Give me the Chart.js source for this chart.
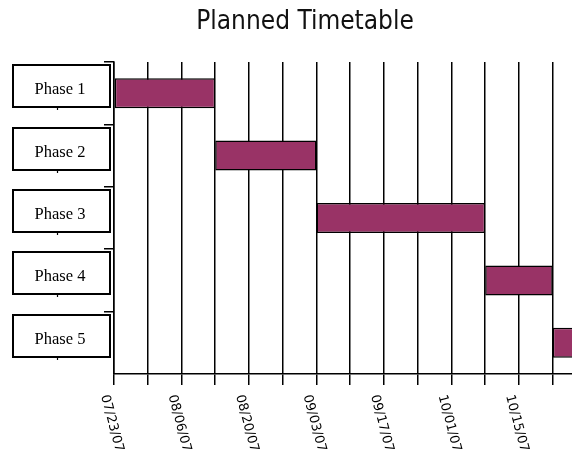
<!DOCTYPE html>
<html>
<head>
<meta charset="utf-8">
<title>Planned Timetable</title>
<script src="https://cdn.jsdelivr.net/npm/chart.js@4/dist/chart.umd.min.js"></script>
<style>
  html, body { margin: 0; padding: 0; background: #ffffff; overflow: hidden; }
  canvas { display: block; }
</style>
</head>
<body>
<canvas id="timetable" width="572" height="459"></canvas>
<script>
// Schedule data
const phases = ['Phase 1', 'Phase 2', 'Phase 3', 'Phase 4', 'Phase 5'];
const phaseStart = ['2007-07-23', '2007-08-13', '2007-09-03', '2007-10-08', '2007-10-22'];
const phaseEnd   = ['2007-08-13', '2007-09-03', '2007-10-08', '2007-10-22', '2007-11-05'];
const dateLabels = ['07/23/07', '08/06/07', '08/20/07', '09/03/07', '09/17/07', '10/01/07', '10/15/07'];

const axisStart = '2007-07-23';
const axisEnd = '2007-10-26';
const DAY = 86400000;
const dayOf = s => Math.round((Date.parse(s + 'T00:00:00Z') - Date.parse(axisStart + 'T00:00:00Z')) / DAY);
const spans = phases.map((p, i) => [dayOf(phaseStart[i]), dayOf(phaseEnd[i])]);

// Boxed phase names beside the rows
const phaseBoxes = {
  id: 'phaseBoxes',
  afterDraw(chart) {
    const ctx = chart.ctx;
    const y = chart.scales.y;
    ctx.save();
    phases.forEach((name, i) => {
      const cy = y.getPixelForValue(i) - 7;
      const top = Math.round(cy - 21);
      ctx.fillStyle = '#ffffff';
      ctx.fillRect(13, top, 97, 42);
      ctx.strokeStyle = '#000000';
      ctx.lineWidth = 2;
      ctx.strokeRect(13, top, 97, 42);
      ctx.fillStyle = '#000000';
      ctx.font = '16.5px "Liberation Serif", "Times New Roman", serif';
      ctx.textAlign = 'center';
      ctx.textBaseline = 'alphabetic';
      ctx.fillText(name, 60, top + 29);
      ctx.lineWidth = 1.2;
      ctx.beginPath();
      ctx.moveTo(57.5, top + 42);
      ctx.lineTo(57.5, top + 45);
      ctx.stroke();
    });
    ctx.restore();
  }
};

// Slanted date labels under every second week line
const dateTicks = {
  id: 'dateTicks',
  afterDraw(chart) {
    const ctx = chart.ctx;
    const x = chart.scales.x;
    const base = chart.chartArea.bottom;
    ctx.save();
    ctx.fillStyle = '#000000';
    ctx.font = '13px "DejaVu Sans", sans-serif';
    ctx.textAlign = 'left';
    ctx.textBaseline = 'alphabetic';
    dateLabels.forEach((label, i) => {
      const px = x.getPixelForValue(i * 14);
      ctx.save();
      ctx.translate(px - 13, base + 22);
      ctx.rotate(75 * Math.PI / 180);
      ctx.fillText(label, 0, 0);
      ctx.restore();
    });
    ctx.restore();
  }
};

new Chart(document.getElementById('timetable'), {
  type: 'bar',
  data: {
    labels: phases,
    datasets: [{
      data: spans,
      backgroundColor: '#993366',
      borderColor: '#000000',
      borderWidth: 1.5,
      borderSkipped: false,
      categoryPercentage: 1,
      barPercentage: 0.48
    }]
  },
  options: {
    indexAxis: 'y',
    responsive: false,
    animation: false,
    devicePixelRatio: 1,
    layout: { padding: { left: 38, right: 0, top: 0, bottom: 0 } },
    plugins: {
      legend: { display: false },
      tooltip: { enabled: false },
      title: {
        display: true,
        text: 'Planned Timetable',
        color: '#111111',
        font: { family: '"DejaVu Sans Condensed", "DejaVu Sans", sans-serif', size: 26, weight: 'normal', lineHeight: 1.2 },
        padding: { top: 7, bottom: 23.8 }
      }
    },
    scales: {
      x: {
        type: 'linear',
        position: 'bottom',
        min: 0,
        max: dayOf(axisEnd),
        afterFit(scale) { scale.height = 85; },
        ticks: { display: false, stepSize: 7, includeBounds: false },
        grid: { color: '#000000', lineWidth: 1.5, tickLength: 11, drawTicks: true },
        border: { display: true, color: '#000000', width: 1.5 }
      },
      y: {
        type: 'category',
        afterFit(scale) { scale.width = 76; },
        ticks: { display: false },
        grid: {
          offset: true,
          drawOnChartArea: false,
          // boundary marks above each row; none at the foot of the axis
          color: c => (c.type === 'tick' ? '#000000' : 'rgba(0,0,0,0)'),
          lineWidth: 1.5,
          tickLength: 10
        },
        border: { display: true, color: '#000000', width: 1.5 }
      }
    }
  },
  plugins: [phaseBoxes, dateTicks]
});
</script>
</body>
</html>
